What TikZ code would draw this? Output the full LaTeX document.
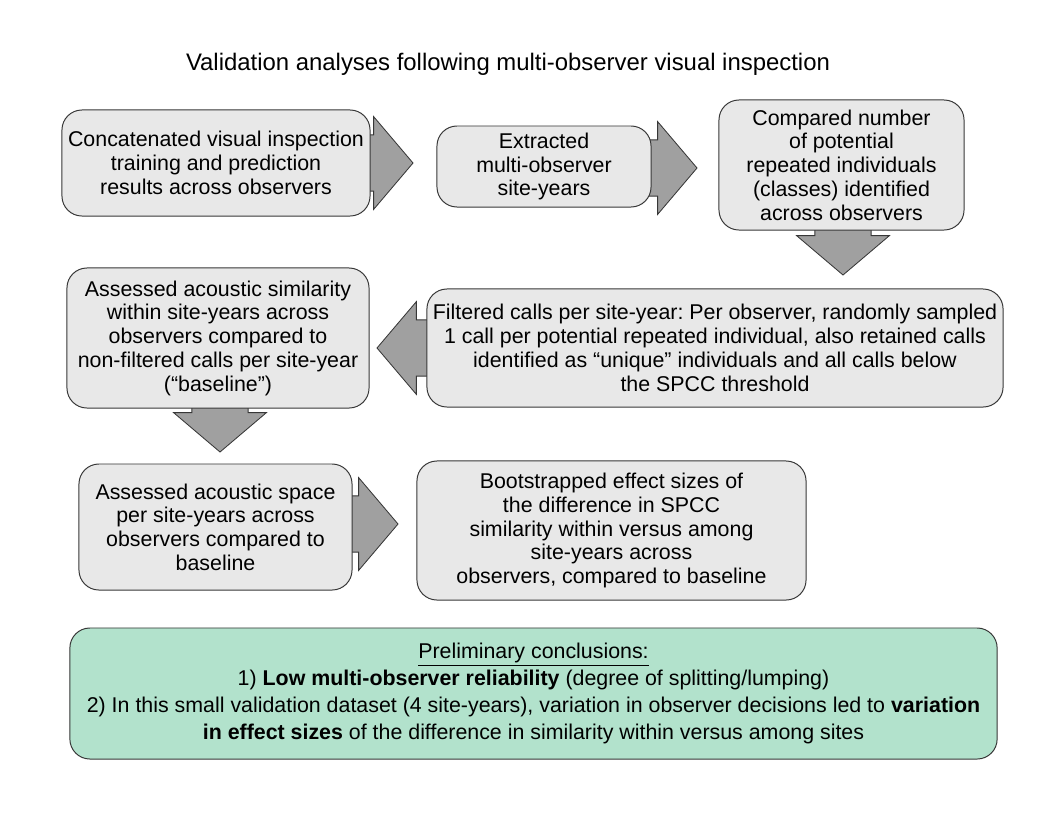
\documentclass[tikz,border=0pt]{standalone}
\usepackage{fontspec}
\setmainfont{Liberation Sans}
\frenchspacing
\usetikzlibrary{calc,backgrounds}
\definecolor{boxgray}{RGB}{232,232,232}
\definecolor{arrowgray}{RGB}{160,160,160}
\definecolor{linegray}{RGB}{55,55,55}
\definecolor{concgreen}{RGB}{178,226,204}

% block arrow, left or right, from #1 to tip #2
\newcommand{\hblock}[2]{%
  \draw[blockarrow] let \p1=(#1), \p2=(#2), \n1={sign(\x2-\x1)} in
    (\x1,\y2+20pt) -- ({\x2-\n1*28pt},\y2+20pt) -- ({\x2-\n1*28pt},\y2+33pt) -- (\x2,\y2)
    -- ({\x2-\n1*28pt},\y2-33pt) -- ({\x2-\n1*28pt},\y2-20pt) -- (\x1,\y2-20pt) -- cycle;}
% block arrow, up or down, from #1 to tip #2
\newcommand{\vblock}[2]{%
  \draw[blockarrow] let \p1=(#1), \p2=(#2), \n1={sign(\y2-\y1)} in
    (\x2+20pt,\y1) -- (\x2+20pt,{\y2-\n1*28pt}) -- (\x2+33pt,{\y2-\n1*28pt}) -- (\x2,\y2)
    -- (\x2-33pt,{\y2-\n1*28pt}) -- (\x2-20pt,{\y2-\n1*28pt}) -- (\x2-20pt,\y1) -- cycle;}

\begin{document}
\begin{tikzpicture}[x=0.025cm,y=-0.025cm,
  stepbox/.style={draw=linegray,line width=0.7pt,fill=boxgray,rounded corners=0.5cm,
    align=center,inner sep=0pt,font=\fontsize{15.2}{16.9}\selectfont},
  blockarrow/.style={draw=linegray,line width=0.6pt,fill=arrowgray}]
\useasboundingbox (0,0) rectangle (1056,816);

% Title
\node[font=\fontsize{17}{20}\selectfont] (title) at (508,64) {Validation analyses following multi-observer visual inspection};

% Steps
\node[stepbox,minimum width=7.7cm,minimum height=2.65cm] (concat) at (216,163)
  {Concatenated visual inspection\\training and prediction\\results across observers};
\node[stepbox,minimum width=5.35cm,minimum height=2.025cm] (extract) at (544,166.5)
  {Extracted\\multi-observer\\site-years};
\node[stepbox,minimum width=6.125cm,minimum height=3.25cm] (compare) at (841.5,165)
  {Compared number\\of potential\\repeated individuals\\(classes) identified\\across observers};
\node[stepbox,minimum width=14.4cm,minimum height=2.95cm] (filter) at (715,348)
  {Filtered calls per site-year: Per observer, randomly sampled\\1 call per potential repeated individual, also retained calls\\identified as “unique” individuals and all calls below\\the SPCC threshold};
\node[stepbox,minimum width=7.55cm,minimum height=3.5cm] (simil) at (218,338)
  {Assessed acoustic similarity\\within site-years across\\observers compared to\\non-filtered calls per site-year\\(“baseline”)};
\node[stepbox,minimum width=6.825cm,minimum height=3.15cm] (space) at (215.5,527)
  {Assessed acoustic space\\per site-years across\\observers compared to\\baseline};
\node[stepbox,minimum width=9.725cm,minimum height=3.475cm] (boot) at (611.5,530.5)
  {Bootstrapped effect sizes of\\the difference in SPCC\\similarity within versus among\\site-years across\\observers, compared to baseline};

% Conclusions
\node[stepbox,fill=concgreen,minimum width=23.175cm,minimum height=3.275cm,
  font=\fontsize{15.2}{19.2}\selectfont] (concl) at (533.5,693.5)
  {\underline{Preliminary conclusions:}\\
   1) \textbf{Low multi-observer reliability} (degree of splitting/lumping)\\
   2) In this small validation dataset (4 site-years), variation in observer decisions led to \textbf{variation}\\
   \textbf{in effect sizes} of the difference in similarity within versus among sites};

% Arrow tips
\coordinate (ab) at (413,163);
\coordinate (bc) at (697,168);
\coordinate (cd) at (843,275);
\coordinate (de) at (377,348);
\coordinate (ef) at (220,452);
\coordinate (fg) at (398,524);

% Arrows behind the boxes
\begin{scope}[on background layer]
\hblock{concat}{ab}
\hblock{extract}{bc}
\vblock{compare}{cd}
\hblock{filter}{de}
\vblock{simil}{ef}
\hblock{space}{fg}
\end{scope}
\end{tikzpicture}
\end{document}
